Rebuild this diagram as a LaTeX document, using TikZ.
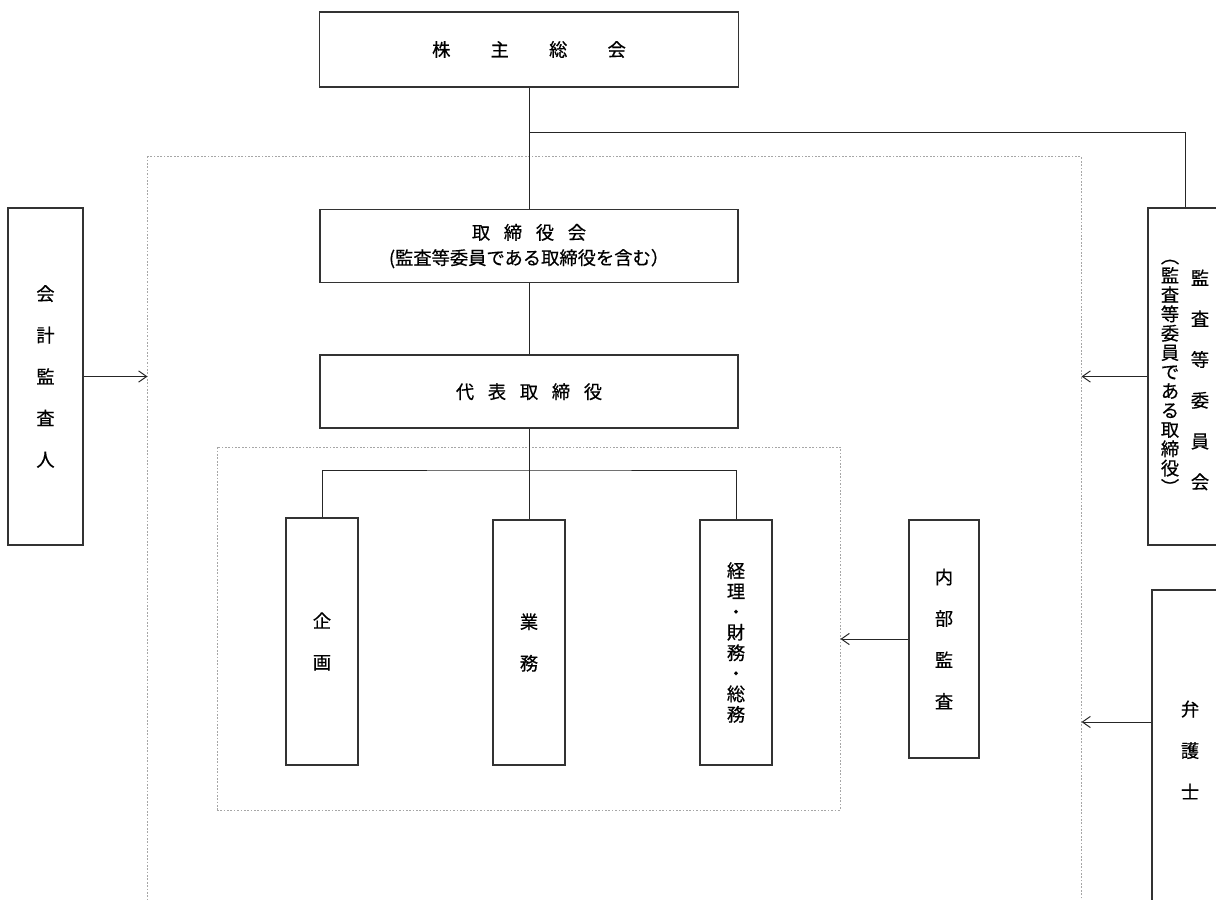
\documentclass[tikz,border=0pt]{standalone}
\usepackage{fontspec}
\newfontfamily\jp[FakeBold=0.5]{Noto Sans CJK JP}
\usetikzlibrary{positioning, arrows.meta}

\begin{document}
\begin{tikzpicture}[
    x=0.025cm, y=-0.025cm,
    font=\jp,
    box/.style={
        rectangle, draw=black!80, line width=1.1pt, align=center, inner sep=0pt
    },
    yoko/.style={
        box, minimum width=10.45cm, minimum height=1.825cm, font=\jp\fontsize{13}{18}\selectfont
    },
    tate/.style={
        box, minimum width=1.8cm, font=\jp\fontsize{13}{29.5}\selectfont
    },
    waku/.style={
        rectangle, draw=gray!70, line width=0.6pt, dash pattern=on 1.2pt off 1.2pt, inner sep=0pt
    },
    sen/.style={draw=black!85, line width=0.7pt},
    ya/.style={sen, -{Straight Barb[length=2mm, width=2.8mm]}}
]
    \path[use as bounding box, clip] (0,0) rectangle (1216,900);

    % --- 枠 ---
    \node [waku, minimum width=23.325cm, minimum height=19.075cm] (kaisha) at (614.5,538.5) {};
    \node [waku, minimum width=15.575cm, minimum height=9.075cm] (bumon) at (528.5,628.5) {};

    % --- 本体 ---
    \node [yoko, minimum width=10.475cm, minimum height=1.875cm] (soukai) at (529,49.5) {株\hspace{2.2em}主\hspace{2.2em}総\hspace{2.2em}会};
    \node [yoko, below=3.025cm of soukai] (torishimari) {取\hspace{0.75em}締\hspace{0.75em}役\hspace{0.75em}会\\(監査等委員である取締役を含む）};
    \node [yoko, below=1.775cm of torishimari] (daihyo) {代\hspace{0.75em}表\hspace{0.75em}取\hspace{0.75em}締\hspace{0.75em}役};

    % --- 部門 ---
    \node [tate, minimum height=6.175cm] (kikaku) at (322,641.5) {企\\画};
    \node [tate, minimum height=6.125cm] (gyomu) at (529,642.5) {業\\務};
    \node [tate, font=\jp\fontsize{13}{14.6}\selectfont, minimum height=6.125cm] (keiri) at (736,642.5) {経\\理\\・\\財\\務\\・\\総\\務};

    % --- 外部 ---
    \node [tate, minimum width=1.875cm, minimum height=8.425cm] (kaikei) at (45.5,376.5) {会\\計\\監\\査\\人};
    \node [box, minimum width=1.875cm, minimum height=8.425cm] (kansa) at (1185.5,376.5) {};
    \node [font=\jp\fontsize{13}{29}\selectfont, align=center] (kansa-1) at (1200,380) {監\\査\\等\\委\\員\\会};
    \node [font=\jp\fontsize{13}{13.7}\selectfont, align=center] (kansa-2) at (1170,377) {︵\\監\\査\\等\\委\\員\\で\\あ\\る\\取\\締\\役\\︶};
    \node [tate, minimum width=1.9cm, minimum height=8cm] (bengoshi) at (1190,750) {弁\\護\\士};
    \node [tate, minimum width=1.75cm, minimum height=5.95cm] (naibu) at (944,639) {内\\部\\監\\査};

    % --- 連線 ---
    \coordinate (kb) at (529,132);
    \coordinate (bb) at (529,470);
    \draw [sen] (soukai) -- (torishimari);
    \draw [sen] (kb) -| (kansa.north);
    \draw [sen] (torishimari) -- (daihyo);
    \draw [sen] (daihyo) -- (gyomu);
    \draw [sen] (kikaku.north) |- (bb) -| (keiri.north);

    % --- 矢印 ---
    \coordinate (bg) at ([yshift=0.7cm]bengoshi.west);
    \draw [ya] (kaikei.east) -- (kaikei.east -| kaisha.west);
    \draw [ya] (kansa.west) -- (kansa.west -| kaisha.east);
    \draw [ya] (bg) -- (bg -| kaisha.east);
    \draw [ya] (naibu.west) -- (naibu.west -| bumon.east);

\end{tikzpicture}
\end{document}
